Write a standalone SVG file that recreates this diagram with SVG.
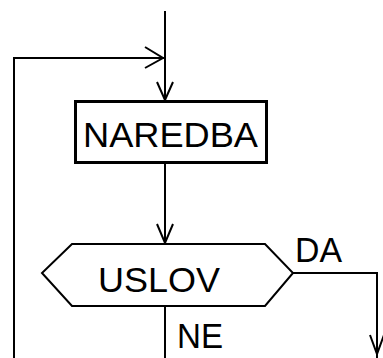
<svg xmlns="http://www.w3.org/2000/svg" width="383" height="358" viewBox="0 0 383 358">
<style>
.c{fill:none;stroke:#000;stroke-width:2}
.a{fill:none;stroke:#000;stroke-width:2}
.t{font-family:"Liberation Sans",Arial,sans-serif;font-size:35px;fill:#000}
</style>
<rect width="383" height="358" fill="#fff"/>
<g id="connectors">
<path class="c" d="M165,11 V100"/>
<path class="c" d="M165,58 H14 V358"/>
<polyline class="a" points="145,47 163,58 145,68"/>
<polyline class="a" points="157,82 165,100 173,82"/>
<path class="c" d="M165,163 V244"/>
<polyline class="a" points="157,224 165,243 173,224"/>
<path class="c" d="M165,306 V358"/>
<path class="c" d="M293,273 H377 V358"/>
<polyline class="a" points="370,335 377,354 384,335"/>
<text class="t" x="295" y="262" textLength="47" lengthAdjust="spacingAndGlyphs">DA</text>
<text class="t" x="177" y="348" textLength="46" lengthAdjust="spacingAndGlyphs">NE</text>
</g>
<g id="naredba">
<rect x="75.5" y="101.5" width="191" height="61" fill="#fff" stroke="#000" stroke-width="3"/>
<text class="t" x="83" y="147" textLength="175" lengthAdjust="spacingAndGlyphs">NAREDBA</text>
</g>
<g id="uslov">
<polygon points="72,244 265,244 293,273 265,306 72,306 42,273" fill="#fff" stroke="#000" stroke-width="2"/>
<text class="t" x="98" y="292" textLength="122" lengthAdjust="spacingAndGlyphs">USLOV</text>
</g>
</svg>
